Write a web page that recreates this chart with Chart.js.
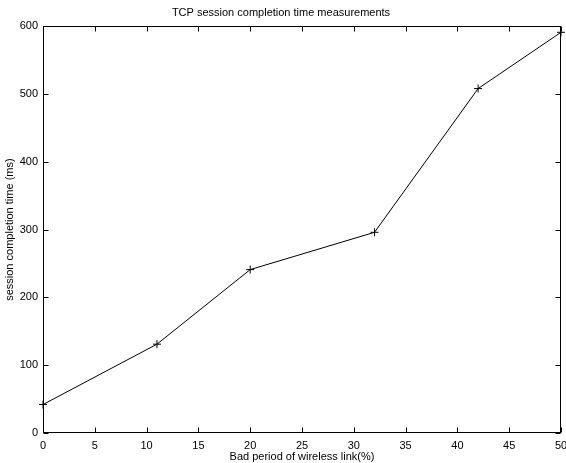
<!DOCTYPE html>
<html>
<head>
<meta charset="utf-8">
<style>
  body { margin: 0; background: #fff; }
  #wrap { width: 566px; height: 463px; }
</style>
<script src="https://cdn.jsdelivr.net/npm/chart.js@4.4.0/dist/chart.umd.min.js"></script>
</head>
<body>
<div id="wrap"><canvas id="chart" width="566" height="463"></canvas></div>
<script>
// values
const badPeriod = [0, 11, 20, 32, 42, 50];
const completionTime = [42, 131, 241, 296, 508, 591];
const xTickValues = [0, 5, 10, 15, 20, 25, 30, 35, 40, 45, 50];
const yTickValues = [0, 100, 200, 300, 400, 500, 600];

// matlab style box with ticks pointing inwards on all sides
const innerTicks = {
  id: 'innerTicks',
  afterDraw(chart) {
    const { ctx, chartArea: a, scales: { x, y } } = chart;
    const len = 5;
    const L = Math.round(a.left) + 0.5, R = Math.round(a.right) - 0.5;
    const T = Math.round(a.top) + 0.5, B = Math.round(a.bottom) - 0.5;
    ctx.save();
    ctx.strokeStyle = '#000';
    ctx.lineWidth = 1;
    ctx.beginPath();
    x.ticks.forEach(t => {
      const px = Math.round(x.getPixelForValue(t.value)) + 0.5;
      ctx.moveTo(px, B); ctx.lineTo(px, B - len);
      ctx.moveTo(px, T); ctx.lineTo(px, T + len);
    });
    y.ticks.forEach(t => {
      const py = Math.round(y.getPixelForValue(t.value)) + 0.5;
      ctx.moveTo(L, py); ctx.lineTo(L + len, py);
      ctx.moveTo(R, py); ctx.lineTo(R - len, py);
    });
    ctx.stroke();
    ctx.strokeRect(L, T, R - L, B - T);
    ctx.restore();
  }
};

Chart.defaults.font.family = '"Liberation Sans", Arial, sans-serif';
Chart.defaults.font.size = 11;
Chart.defaults.color = '#000';

new Chart(document.getElementById('chart').getContext('2d'), {
  type: 'line',
  data: {
    datasets: [{
      label: 'session completion time',
      data: badPeriod.map((v, i) => ({ x: v, y: completionTime[i] })),
      borderColor: '#000',
      backgroundColor: '#000',
      borderWidth: 1,
      pointStyle: 'cross',
      pointRadius: 4,
      pointBorderWidth: 1,
      tension: 0,
      fill: false,
      clip: false
    }]
  },
  options: {
    responsive: false,
    animation: false,
    layout: { padding: { left: 0, right: 4, top: 0, bottom: 0 } },
    plugins: {
      legend: { display: false },
      tooltip: { enabled: false },
      title: {
        display: true,
        text: 'TCP session completion time measurements',
        font: { size: 11, weight: 'normal' },
        padding: { top: 6, bottom: 7 }
      }
    },
    scales: {
      x: {
        type: 'linear',
        min: 0,
        max: 50,
        afterBuildTicks: s => { s.ticks = xTickValues.map(v => ({ value: v })); },
        afterFit: s => { s.height = 30; s.paddingLeft = 0; s.paddingRight = 0; },
        grid: { display: false, drawTicks: false },
        border: { display: false },
        ticks: { padding: 6, maxRotation: 0, autoSkip: false },
        title: {
          display: true,
          text: 'Bad period of wireless link(%)',
          padding: { top: 0, bottom: -1 }
        }
      },
      y: {
        min: 0,
        max: 600,
        afterBuildTicks: s => { s.ticks = yTickValues.map(v => ({ value: v })); },
        afterFit: s => { s.width = 43; s.paddingTop = 0; s.paddingBottom = 0; },
        grid: { display: false, drawTicks: false },
        border: { display: false },
        ticks: { padding: 5, autoSkip: false },
        title: {
          display: true,
          text: 'session completion time (ms)',
          padding: { top: 3, bottom: 0 }
        }
      }
    }
  },
  plugins: [innerTicks]
});
</script>
</body>
</html>
